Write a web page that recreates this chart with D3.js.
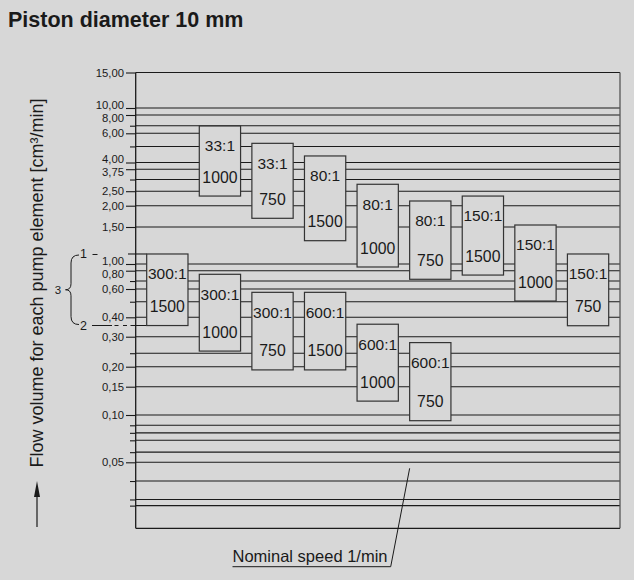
<!DOCTYPE html>
<html><head><meta charset="utf-8">
<script src="https://cdn.jsdelivr.net/npm/d3@7"></script>
<style>
html,body{margin:0;padding:0;background:#d7d7d7;}
svg{display:block;font-family:"Liberation Sans",Arial,Helvetica,sans-serif;}
</style></head><body>
<svg id="chart" width="634" height="580"></svg>
<script>
// ---------------- data ----------------
const chartTitle = "Piston diameter 10 mm";
const yAxisTitle = "Flow volume for each pump element [cm³/min]";
const speedNote = "Nominal speed 1/min";
// labelled flow levels [cm³/min]
const tickValues = [15, 10, 8, 6, 4, 3.75, 2.5, 2, 1.5, 1, 0.8, 0.6, 0.4, 0.3, 0.2, 0.15, 0.1, 0.05];
// unlabelled grid levels
const minorValues = [6.76, 5, 3.1, 0.68, 0.5, 0.24, 0.086, 0.077, 0.069, 0.058, 0.038, 0.029, 0.0265];
const axisMin = 0.019;
// pump elements: gear ratio, nominal speed, column, flow range
const ratios   = ["300:1","33:1","300:1","33:1","300:1","80:1","600:1","80:1","600:1","80:1","600:1","150:1","150:1","150:1"];
const speeds   = [1500, 1000, 1000, 750, 750, 1500, 1500, 1000, 1000, 750, 750, 1500, 1000, 750];
const columns  = [0, 1, 1, 2, 2, 3, 3, 4, 4, 5, 5, 6, 7, 8];
const flowMax  = [1.116, 6.73, 0.756, 5.22, 0.572, 4.38, 0.572, 2.84, 0.361, 2.15, 0.277, 2.32, 1.541, 1.116];
const flowMin  = [0.354, 2.32, 0.247, 1.687, 0.191, 1.291, 0.191, 0.905, 0.122, 0.699, 0.092, 0.747, 0.505, 0.353];
const braceLabels = ["1", "2", "3"];

// ---------------- layout ----------------
const W = 634, H = 580;
const bg = "#d7d7d7", ink = "#1a1a1a";
const axisX = 135.7, rightX = 620;
// schematic (non-uniform) flow axis: positions of the labelled levels
const yStops = [72.5,108,115,133.3,162.5,169.2,191.2,205.7,227,264,270.7,289,317.3,336.7,366.7,386.7,415,462.3];
const y = d3.scaleLog().domain(tickValues).range(yStops);
const x = d3.scaleBand().domain(d3.range(9)).range([146.7, 608.7]).paddingInner(0.215).paddingOuter(0);

const svg = d3.select("#chart");
svg.append("rect").attr("width", W).attr("height", H).attr("fill", bg);

// title
svg.append("text").attr("x", 8).attr("y", 27)
  .attr("font-size", 21.5).attr("font-weight", "bold").attr("fill", ink)
  .text(chartTitle);

const yTop = y(tickValues[0]), yBot = y(axisMin);

// grid lines
const allLevels = tickValues.concat(minorValues);
svg.append("g").selectAll("line").data(allLevels).join("line")
  .attr("x1", axisX).attr("x2", rightX)
  .attr("y1", d => y(d)).attr("y2", d => y(d))
  .attr("stroke", ink).attr("stroke-width", 1.1);
// frame
svg.append("line").attr("x1", axisX).attr("x2", rightX).attr("y1", yBot).attr("y2", yBot).attr("stroke", ink).attr("stroke-width", 1.1);
svg.append("line").attr("x1", axisX).attr("x2", axisX).attr("y1", yTop).attr("y2", yBot).attr("stroke", ink).attr("stroke-width", 1.3);
svg.append("line").attr("x1", rightX).attr("x2", rightX).attr("y1", yTop).attr("y2", yBot).attr("stroke", "#555").attr("stroke-width", 1.3);

// axis with labelled ticks
const fmt = d3.formatLocale({decimal: ",", thousands: ".", grouping: [3], currency: ["", ""]}).format(".2f");
const gAxis = svg.append("g").attr("transform", `translate(${axisX},0)`)
  .call(d3.axisLeft(y).tickValues(tickValues).tickSize(9.7).tickSizeOuter(0).tickPadding(2).tickFormat(fmt));
gAxis.select(".domain").remove();
gAxis.selectAll(".tick line").attr("stroke", ink).attr("stroke-width", 1.1);
// nudge crowded labels apart
const minGap = 13;
const pos = tickValues.map(v => y(v));
const lab = pos.slice();
for (let i = 1; i < lab.length; i++) {
  const gap = lab[i] - lab[i - 1];
  if (gap < minGap) { const d = (minGap - gap) / 2; lab[i - 1] -= d; lab[i] += d; }
}
gAxis.selectAll(".tick text")
  .attr("y", (d, i) => lab[i] - pos[i])
  .attr("font-size", 11.3).attr("font-family", "Liberation Sans, Arial, sans-serif")
  .attr("fill", ink);

// minor ticks
const gMinor = svg.append("g").attr("transform", `translate(${axisX},0)`)
  .call(d3.axisLeft(y).tickValues(minorValues).tickSize(5.7).tickSizeOuter(0).tickFormat(""));
gMinor.select(".domain").remove();
gMinor.selectAll(".tick line").attr("stroke", ink).attr("stroke-width", 1.1);

// reference markers 1 / 2 on first element
const y1 = y(flowMax[0]), y2 = y(flowMin[0]), bx = x(columns[0]);
svg.append("line").attr("x1", 128).attr("x2", bx).attr("y1", y1).attr("y2", y1).attr("stroke", ink).attr("stroke-width", 1.1);
svg.append("line").attr("x1", 92.5).attr("x2", 97.5).attr("y1", y1 + 0.5).attr("y2", y1 + 0.5).attr("stroke", ink).attr("stroke-width", 1);
svg.append("line").attr("x1", 92).attr("x2", bx).attr("y1", y2).attr("y2", y2)
  .attr("stroke", ink).attr("stroke-width", 1.1).attr("stroke-dasharray", "20,2.5,4,4.5,4,3.5,100");
svg.append("text").attr("x", 83.5).attr("y", y1).attr("dy", "0.35em").attr("text-anchor", "middle")
  .attr("font-size", 12.5).attr("fill", ink).text(braceLabels[0]);
svg.append("text").attr("x", 83.5).attr("y", y2).attr("dy", "0.35em").attr("text-anchor", "middle")
  .attr("font-size", 12.5).attr("fill", ink).text(braceLabels[1]);
const ym = (y1 + y2) / 2;
svg.append("path")
  .attr("d", `M79,${y1 + 1} Q71,${y1 + 1} 71,${y1 + 9} L71,${ym - 6} Q71,${ym} 65.5,${ym} Q71,${ym} 71,${ym + 6} L71,${y2 - 9} Q71,${y2 - 1} 79,${y2 - 1}`)
  .attr("fill", "none").attr("stroke", ink).attr("stroke-width", 1);
svg.append("text").attr("x", 58).attr("y", ym).attr("dy", "0.35em").attr("text-anchor", "middle")
  .attr("font-size", 11.5).attr("fill", ink).text(braceLabels[2]);

// boxes
const idx = d3.range(ratios.length);
const gBox = svg.append("g").selectAll("g").data(idx).join("g");
gBox.append("rect")
  .attr("x", i => x(columns[i])).attr("width", x.bandwidth())
  .attr("y", i => y(flowMax[i])).attr("height", i => y(flowMin[i]) - y(flowMax[i]))
  .attr("fill", bg).attr("stroke", "#333").attr("stroke-width", 1.2);
gBox.append("text")
  .attr("x", i => x(columns[i]) + x.bandwidth() / 2).attr("y", i => y(flowMax[i]) + 20)
  .attr("dy", "0.35em").attr("text-anchor", "middle").attr("font-size", 15.5).attr("fill", ink)
  .text(i => ratios[i]);
gBox.append("text")
  .attr("x", i => x(columns[i]) + x.bandwidth() / 2).attr("y", i => y(flowMin[i]) - 19)
  .attr("dy", "0.35em").attr("text-anchor", "middle").attr("font-size", 15.8).attr("fill", ink)
  .text(i => speeds[i]);

// y-axis title and arrow
svg.append("text").attr("transform", "translate(37,283) rotate(-90)")
  .attr("text-anchor", "middle").attr("dy", "0.35em").attr("font-size", 18).attr("fill", ink)
  .text(yAxisTitle);
svg.append("line").attr("x1", 37).attr("x2", 37).attr("y1", 527).attr("y2", 492).attr("stroke", ink).attr("stroke-width", 1.2);
svg.append("path").attr("d", "M37,481 L34,497 L40,497 Z").attr("fill", ink);

// speed note with leader
const noteX = 232.5, noteBase = 561.5, underY = 566.7, underEnd = 390.7;
svg.append("text").attr("x", noteX).attr("y", noteBase).attr("font-size", 16.5).attr("fill", ink).text(speedNote);
svg.append("polyline")
  .attr("points", `${noteX},${underY} ${underEnd},${underY} ${x(5)},${y(0.05) + 6}`)
  .attr("fill", "none").attr("stroke", ink).attr("stroke-width", 1);
</script>
</body></html>
